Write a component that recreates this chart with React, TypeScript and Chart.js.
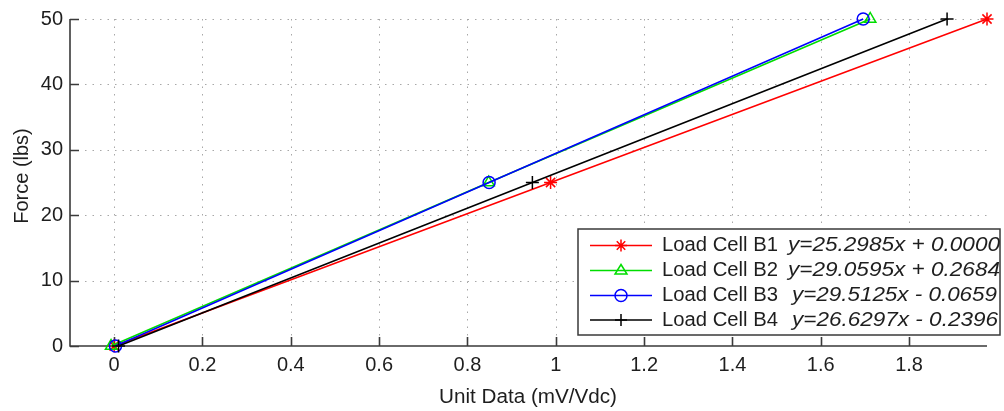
import React, { useEffect, useRef } from "react";
import { Chart, registerables } from "chart.js";

Chart.register(...registerables);

// ---- data ----
const forceLevels = [0, 25, 50];
const b1X = [0, 0.9882, 1.9764];
const b2X = [-0.007, 0.848, 1.712];
const b3X = [0.003, 0.849, 1.696];
const b4X = [0.01, 0.947, 1.886];
const seriesNames = ["Load Cell B1", "Load Cell B2", "Load Cell B3", "Load Cell B4"];
const equations = [
  "y=25.2985x + 0.0000",
  "y=29.0595x + 0.2684",
  "y=29.5125x - 0.0659",
  "y=26.6297x - 0.2396",
];
const xTicks = [0, 0.2, 0.4, 0.6, 0.8, 1, 1.2, 1.4, 1.6, 1.8];
const yTicks = [0, 10, 20, 30, 40, 50];
const xLabel = "Unit Data (mV/Vdc)";
const yLabel = "Force (lbs)";

const colors = ["#ff0000", "#00dd00", "#0000ff", "#000000"];
const styles = ["star", "triangle", "circle", "cross"];
const FONT = "'Liberation Sans', Arial, sans-serif";
const TEXT = "#1e1e1e";

function drawMarker(ctx: CanvasRenderingContext2D, style: string, x: number, y: number, r: number, color: string) {
  ctx.save();
  ctx.strokeStyle = color;
  ctx.lineWidth = 1.5;
  ctx.beginPath();
  if (style === "star") {
    for (let i = 0; i < 4; i++) {
      const a = (i * Math.PI) / 4;
      ctx.moveTo(x - r * Math.cos(a), y - r * Math.sin(a));
      ctx.lineTo(x + r * Math.cos(a), y + r * Math.sin(a));
    }
  } else if (style === "triangle") {
    ctx.moveTo(x, y - r);
    ctx.lineTo(x + r * 0.866 * 1.15, y + r * 0.6);
    ctx.lineTo(x - r * 0.866 * 1.15, y + r * 0.6);
    ctx.closePath();
  } else if (style === "circle") {
    ctx.arc(x, y, r, 0, Math.PI * 2);
  } else {
    ctx.moveTo(x - r, y);
    ctx.lineTo(x + r, y);
    ctx.moveTo(x, y - r);
    ctx.lineTo(x, y + r);
  }
  ctx.stroke();
  ctx.restore();
}

function scaledText(ctx: CanvasRenderingContext2D, text: string, x: number, y: number, width: number) {
  const w = ctx.measureText(text).width;
  const sx = width / w;
  ctx.save();
  ctx.translate(x, y);
  ctx.scale(sx, 1);
  ctx.fillText(text, 0, 0);
  ctx.restore();
}

const matlabAxes = {
  id: "matlabAxes",
  beforeDatasetsDraw(chart: any) {
    const ctx: CanvasRenderingContext2D = chart.ctx;
    const { left, right, top, bottom } = chart.chartArea;
    const xs = chart.scales.x;
    const ys = chart.scales.y;
    ctx.save();
    // dotted grid
    ctx.strokeStyle = "#a8a8a8";
    ctx.lineWidth = 1;
    ctx.setLineDash([1.5, 6]);
    ctx.beginPath();
    xTicks.forEach((v) => {
      const px = Math.round(xs.getPixelForValue(v)) + 0.5;
      ctx.moveTo(px, top);
      ctx.lineTo(px, bottom);
    });
    yTicks.forEach((v) => {
      if (v === 0) return;
      const py = Math.round(ys.getPixelForValue(v)) + 0.5;
      ctx.moveTo(left, py);
      ctx.lineTo(right, py);
    });
    ctx.stroke();
    ctx.setLineDash([]);
    // axes lines
    ctx.strokeStyle = "#3a3a3a";
    ctx.lineWidth = 1.6;
    ctx.beginPath();
    ctx.moveTo(left, top);
    ctx.lineTo(left, bottom);
    ctx.lineTo(right, bottom);
    // inner ticks
    xTicks.forEach((v) => {
      const px = Math.round(xs.getPixelForValue(v)) + 0.5;
      ctx.moveTo(px, bottom);
      ctx.lineTo(px, bottom - 9);
    });
    yTicks.forEach((v) => {
      const py = Math.round(ys.getPixelForValue(v)) + 0.5;
      ctx.moveTo(left, py);
      ctx.lineTo(left + 9, py);
    });
    ctx.stroke();
    ctx.restore();
  },
  afterDraw(chart: any) {
    const ctx: CanvasRenderingContext2D = chart.ctx;
    ctx.save();
    // axis titles
    ctx.fillStyle = TEXT;
    ctx.font = `20px ${FONT}`;
    ctx.textBaseline = "middle";
    ctx.textAlign = "left";
    const xw = 178;
    scaledText(ctx, xLabel, 528 - xw / 2, 397, xw);
    ctx.save();
    ctx.translate(22, 176);
    ctx.rotate(-Math.PI / 2);
    ctx.textAlign = "center";
    ctx.fillText(yLabel, 0, 0);
    ctx.restore();

    // legend
    const bx = 578, by = 229, bw = 422, bh = 106;
    ctx.fillStyle = "#ffffff";
    ctx.fillRect(bx, by, bw, bh);
    ctx.strokeStyle = "#3a3a3a";
    ctx.lineWidth = 1.5;
    ctx.strokeRect(bx, by, bw, bh);
    const rowY = [245.5, 270.5, 295.5, 320];
    const eqX = [788, 788, 792, 792];
    const eqEnd = [1000, 1000, 997, 998];
    for (let i = 0; i < 4; i++) {
      const y = rowY[i];
      ctx.strokeStyle = colors[i];
      ctx.lineWidth = 1.5;
      ctx.beginPath();
      ctx.moveTo(590, y);
      ctx.lineTo(652, y);
      ctx.stroke();
      drawMarker(ctx, styles[i], 621, y, 6, colors[i]);
      ctx.fillStyle = TEXT;
      ctx.textAlign = "left";
      ctx.textBaseline = "middle";
      ctx.font = `20px ${FONT}`;
      scaledText(ctx, seriesNames[i], 662, y, 116);
      ctx.font = `italic 20px ${FONT}`;
      scaledText(ctx, equations[i], eqX[i], y, eqEnd[i] - eqX[i]);
    }
    ctx.restore();
  },
};

const makeData = (xsArr: number[]) => xsArr.map((x, i) => ({ x, y: forceLevels[i] }));

export default function App() {
  const ref = useRef<HTMLCanvasElement>(null);
  useEffect(() => {
    if (!ref.current) return;
    const seriesX = [b1X, b2X, b3X, b4X];
    const chart = new Chart(ref.current, {
      type: "scatter",
      data: {
        datasets: seriesX.map((xsArr, i) => ({
          label: seriesNames[i],
          data: makeData(xsArr),
          showLine: true,
          clip: false as any,
          borderColor: colors[i],
          backgroundColor: "rgba(0,0,0,0)",
          borderWidth: 1.6,
          pointStyle: styles[i] as any,
          pointRadius: styles[i] === "circle" ? 6 : 6.5,
          pointBorderWidth: 1.5,
          pointBorderColor: colors[i],
          pointBackgroundColor: "rgba(0,0,0,0)",
          order: 4 - i,
        })),
      },
      options: {
        responsive: false,
        animation: false,
        layout: { padding: { left: 0, right: 17, top: 16, bottom: 0 } },
        plugins: { legend: { display: false }, tooltip: { enabled: false } },
        scales: {
          x: {
            type: "linear",
            min: -0.1,
            max: 1.9764,
            afterBuildTicks: (s: any) => {
              s.ticks = xTicks.map((v) => ({ value: v }));
            },
            afterFit: (s: any) => {
              s.height = 65;
            },
            grid: { display: false, drawTicks: false },
            border: { display: false },
            ticks: {
              padding: 7,
              color: TEXT,
              font: { family: FONT, size: 20 },
              maxRotation: 0,
              autoSkip: false,
              callback: (v: any) => String(Math.round(Number(v) * 10) / 10),
            },
          },
          y: {
            type: "linear",
            min: 0,
            max: 50,
            afterBuildTicks: (s: any) => {
              s.ticks = yTicks.map((v) => ({ value: v }));
            },
            afterFit: (s: any) => {
              s.width = 70;
            },
            grid: { display: false, drawTicks: false },
            border: { display: false },
            ticks: {
              padding: 7,
              color: TEXT,
              font: { family: FONT, size: 20 },
              autoSkip: false,
            },
          },
        },
      },
      plugins: [matlabAxes],
    });
    return () => chart.destroy();
  }, []);
  return (
    <div style={{ position: "absolute", left: 0, top: 0, width: 1004, height: 411, background: "#fff" }}>
      <canvas ref={ref} width={1004} height={411} style={{ display: "block" }} />
    </div>
  );
}
